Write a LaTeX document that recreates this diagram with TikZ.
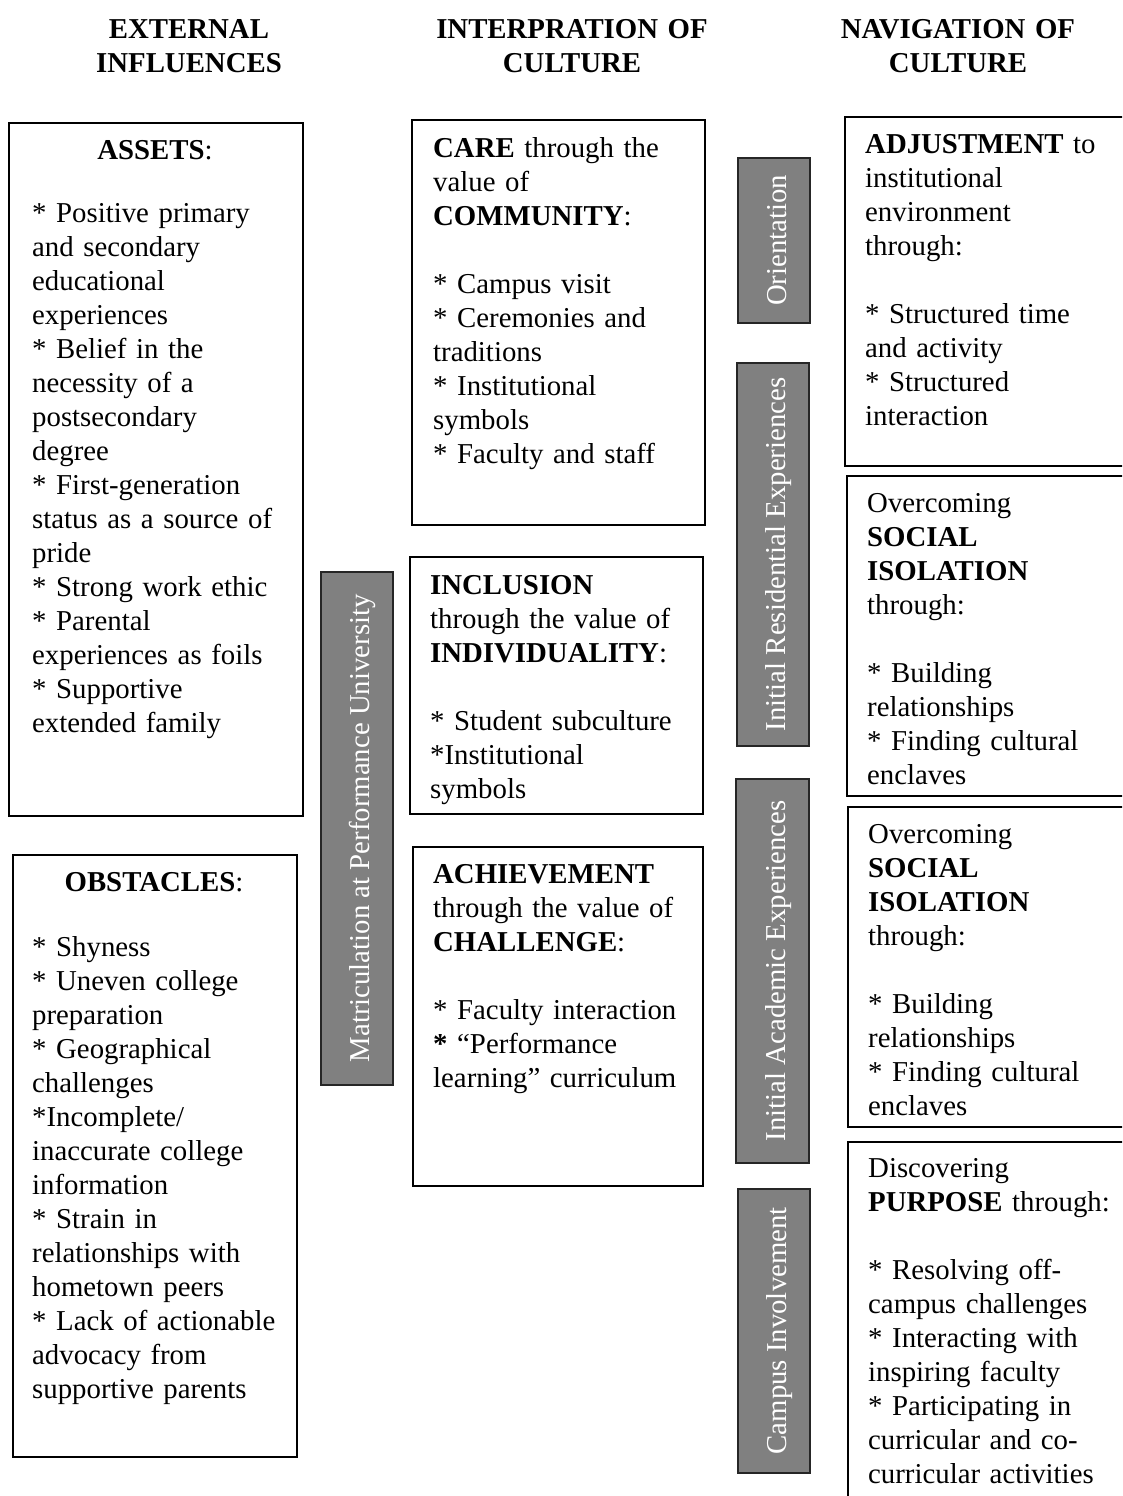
\documentclass[tikz,border=0pt]{standalone}
\usepackage{fontspec}
\setmainfont{Liberation Serif}
\usetikzlibrary{calc}
\begin{document}
\begin{tikzpicture}[x=1pt,y=-1pt,
  fnt/.style={font=\fontsize{28.8}{34}\selectfont},
  box/.style={draw=black, line width=1.6pt, fill=white, inner sep=0pt, anchor=north west},
  bar/.style={draw=black!85, fill={rgb,255:red,128;green,128;blue,128}, line width=1.6pt, inner sep=0pt, anchor=north west},
  barlabel/.style={fnt, text=white, rotate=90, inner sep=0pt, anchor=base},
  txt/.style={fnt, text width=330pt, align=left, inner sep=0pt, anchor=north west},
  head/.style={font=\fontsize{28.8}{34}\selectfont\bfseries, text width=330pt, align=center, inner sep=0pt, anchor=north},
  ttl/.style={fnt, anchor=base, inner sep=0pt}
]
\useasboundingbox (0,0) rectangle (1122,1496);
\clip (0,0) rectangle (1122,1496);

% headers
\node[head] (h1) at (189,14.2) {\strut EXTERNAL\\INFLUENCES};
\node[head] (h2) at (572,14.2) {\strut INTERPRATION OF\\CULTURE};
\node[head] (h3) at (958,14.2) {\strut NAVIGATION OF\\CULTURE};

% left column
\node[box, minimum width=294pt, minimum height=693pt] (assets) at (8,122) {};
\node[ttl] (assetsT) at (155,159) {\textbf{ASSETS}:};
\node[txt] (assetsL) at (32,198.2) {\strut* Positive primary\\and secondary\\educational\\experiences\\{}* Belief in the\\necessity of a\\postsecondary\\degree\\{}* First-generation\\status as a source of\\pride\\{}* Strong work ethic\\{}* Parental\\experiences as foils\\{}* Supportive\\extended family};

\node[box, minimum width=284pt, minimum height=602pt] (obst) at (12,854) {};
\node[ttl] (obstT) at (154,891) {\textbf{OBSTACLES}:};
\node[txt] (obstL) at (32,932.2) {\strut* Shyness\\{}* Uneven college\\preparation\\{}* Geographical\\challenges\\{}*Incomplete/\\inaccurate college\\information\\{}* Strain in\\relationships with\\hometown peers\\{}* Lack of actionable\\advocacy from\\supportive parents};

% matriculation bar
\node[bar, minimum width=72pt, minimum height=513pt] (matric) at (320,571) {};
\node[barlabel] (matricL) at ($(matric.center)+(13,0)$) {Matriculation at Performance University};

% middle column
\node[box, minimum width=293pt, minimum height=405pt] (care) at (411,119) {};
\node[txt] (careL) at (433,133.2) {\strut\textbf{CARE} through the\\value of\\\textbf{COMMUNITY}:\\[34pt]* Campus visit\\{}* Ceremonies and\\traditions\\{}* Institutional\\symbols\\{}* Faculty and staff};

\node[box, minimum width=293pt, minimum height=257pt] (incl) at (409,556) {};
\node[txt] (inclL) at (430,570.2) {\strut\textbf{INCLUSION}\\through the value of\\\textbf{INDIVIDUALITY}:\\[34pt]* Student subculture\\{}*Institutional\\symbols};

\node[box, minimum width=290pt, minimum height=339pt] (achv) at (412,846) {};
\node[txt] (achvL) at (433,859.2) {\strut\textbf{ACHIEVEMENT}\\through the value of\\\textbf{CHALLENGE}:\\[34pt]* Faculty interaction\\\textbf{*} “Performance\\learning” curriculum};

% stage bars
\node[bar, minimum width=72pt, minimum height=165pt] (orient) at (737,157) {};
\node[barlabel] (orientL) at ($(orient.center)+(13,0)$) {Orientation};
\node[bar, minimum width=72pt, minimum height=383pt] (resid) at (736,362) {};
\node[barlabel] (residL) at ($(resid.center)+(13,0)$) {Initial Residential Experiences};
\node[bar, minimum width=73pt, minimum height=384pt] (acad) at (735,778) {};
\node[barlabel] (acadL) at ($(acad.center)+(13,0)$) {Initial Academic Experiences};
\node[bar, minimum width=72pt, minimum height=284pt] (campus) at (737,1188) {};
\node[barlabel] (campusL) at ($(campus.center)+(13,0)$) {Campus Involvement};

% right column
\node[box, minimum width=300pt, minimum height=349pt] (adj) at (844,116) {};
\node[txt] (adjL) at (865,129.2) {\strut\textbf{ADJUSTMENT} to\\institutional\\environment\\through:\\[34pt]* Structured time\\and activity\\{}* Structured\\interaction};

\node[box, minimum width=300pt, minimum height=320pt] (soc1) at (846,475) {};
\node[txt] (soc1L) at (867,488.2) {\strut Overcoming\\\textbf{SOCIAL}\\\textbf{ISOLATION}\\through:\\[34pt]* Building\\relationships\\{}* Finding cultural\\enclaves};

\node[box, minimum width=300pt, minimum height=320pt] (soc2) at (847,806) {};
\node[txt] (soc2L) at (868,819.2) {\strut Overcoming\\\textbf{SOCIAL}\\\textbf{ISOLATION}\\through:\\[34pt]* Building\\relationships\\{}* Finding cultural\\enclaves};

\node[box, minimum width=300pt, minimum height=380pt] (purp) at (847,1141) {};
\node[txt] (purpL) at (868,1153.2) {\strut Discovering\\\textbf{PURPOSE} through:\\[34pt]* Resolving off-\\campus challenges\\{}* Interacting with\\inspiring faculty\\{}* Participating in\\curricular and co-\\curricular activities};
\end{tikzpicture}
\end{document}
